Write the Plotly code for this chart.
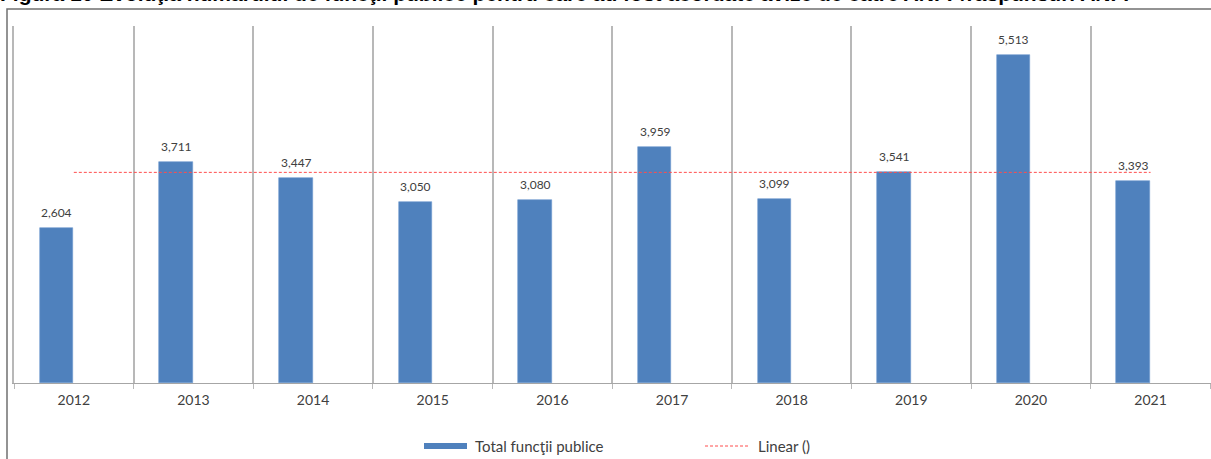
import plotly.graph_objects as go

# Series data
years = ["2012", "2013", "2014", "2015", "2016", "2017", "2018", "2019", "2020", "2021"]
total_functii = [2604, 3711, 3447, 3050, 3080, 3959, 3099, 3541, 5513, 3393]
trend_linear = [3540, 3540, 3540, 3540, 3540, 3540, 3540, 3540, 3540, 3540]

title_text = ("Figura 10 Evoluţia numărului de funcţii publice pentru care au fost "
              "acordate avize de către ANFP/răspunsuri ANFP")
legend_bar = "Total funcţii publice"
legend_line = "Linear ()"

W, H = 1211, 459
M_L, M_R, M_T, M_B = 14, 0, 26, 76
PW, PH = W - M_L - M_R, H - M_T - M_B


def px_x(x):
    return (x - M_L) / PW


def px_y(y):
    return (H - M_B - y) / PH


BLUE = "#4F81BD"
RED = "#FF4D4D"
GRID = "#B8B8B8"
TXT = "#404040"
FONT = "Lato, Open Sans, sans-serif"

fig = go.Figure()

fig.add_trace(go.Bar(
    x=years, y=total_functii, name=legend_bar,
    marker=dict(color=BLUE, line=dict(color="#6E9AD0", width=0.6)),
    width=0.28, offset=-0.285, showlegend=False,
))

fig.add_trace(go.Scatter(
    x=years, y=trend_linear, name=legend_line, mode="lines",
    line=dict(color=RED, width=1, dash="3px,2px"), showlegend=False,
))

# Value labels above each bar (x given as category index)
for i, v in enumerate(total_functii):
    fig.add_annotation(
        x=i, y=v, xref="x", yref="y", text=f"{v:,}", showarrow=False,
        xshift=-17, yshift=6, yanchor="bottom",
        font=dict(family=FONT, size=12, color=TXT),
    )

# Chart heading (runs past the top edge of the page)
fig.add_annotation(
    x=px_x(-2), y=px_y(7), xref="paper", yref="paper", text=f"<b>{title_text}</b>",
    showarrow=False, xanchor="left", yanchor="bottom",
    font=dict(family="Liberation Sans, Arial, sans-serif", size=21, color="#000000"),
)

shapes = [
    # outer chart frame
    dict(type="rect", xref="paper", yref="paper",
         x0=px_x(7), x1=px_x(1230), y0=px_y(480), y1=px_y(9),
         line=dict(color="#707070", width=1.5), fillcolor="rgba(0,0,0,0)", layer="below"),
    # legend keys
    dict(type="rect", xref="paper", yref="paper",
         x0=px_x(424), x1=px_x(467), y0=px_y(449), y1=px_y(443),
         line=dict(width=0), fillcolor=BLUE),
    dict(type="line", xref="paper", yref="paper",
         x0=px_x(705), x1=px_x(750), y0=px_y(446), y1=px_y(446),
         line=dict(color=RED, width=1, dash="3px,2px")),
]

for label, x0 in [(legend_bar, 473), (legend_line, 756)]:
    fig.add_annotation(
        x=px_x(x0), y=px_y(446), xref="paper", yref="paper", text=label,
        showarrow=False, xanchor="left", yanchor="middle",
        font=dict(family=FONT, size=15, color=TXT),
    )

fig.update_layout(
    width=W, height=H,
    margin=dict(l=M_L, r=M_R, t=M_T, b=M_B, pad=0),
    paper_bgcolor="white", plot_bgcolor="white",
    shapes=shapes,
    bargap=0,
    xaxis=dict(
        type="category", range=[-0.5, 9.505],
        tickson="boundaries", ticks="outside", ticklen=5, tickcolor=GRID,
        ticklabelstandoff=4,
        showgrid=True, gridcolor=GRID, gridwidth=1.5,
        showline=True, linecolor="#A6A6A6", linewidth=1,
        tickfont=dict(family=FONT, size=14, color=TXT),
        fixedrange=True,
    ),
    yaxis=dict(
        range=[0, 6000], showgrid=False, showticklabels=False, ticks="",
        zeroline=False, showline=True, linecolor=GRID, linewidth=1.5,
        fixedrange=True,
    ),
)

fig.write_html("out.html")
